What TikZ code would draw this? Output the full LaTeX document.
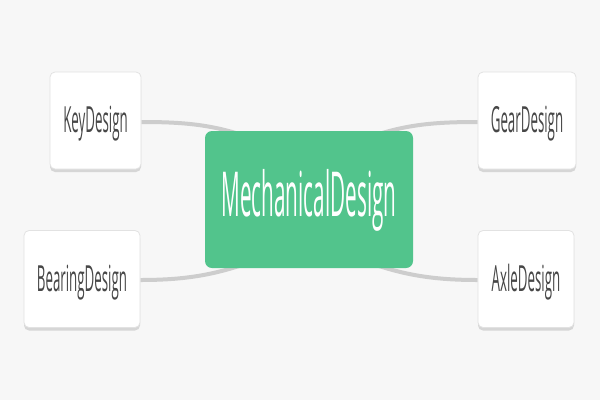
\documentclass[tikz,border=0pt]{standalone}
\usepackage{fontspec}
\usepackage{graphicx}
\setmainfont{Open Sans}
\usetikzlibrary{backgrounds,calc}
\definecolor{bgc}{HTML}{F7F7F7}
\definecolor{rootc}{HTML}{52C48C}
\definecolor{linkc}{HTML}{CDCDCD}
\definecolor{leafborder}{HTML}{E2E2E2}
\definecolor{leafshadow}{HTML}{D6D6D6}
\definecolor{leaftext}{HTML}{474747}
\newcommand{\leaftxt}[1]{\scalebox{0.37}[1]{\fontsize{36}{36}\selectfont #1}}
\newcommand{\roottxt}[1]{\scalebox{0.334}[1]{\fontsize{62}{62}\selectfont #1}}
\begin{document}
\begin{tikzpicture}[x=1pt,y=-1pt,
  rootbox/.style={fill=rootc,rounded corners=7pt,inner sep=0pt,text=white,text height=34pt,text depth=0pt},
  leafbox/.style={fill=white,draw=leafborder,line width=0.8pt,rounded corners=5pt,inner sep=0pt,text=leaftext,text height=24pt,text depth=0pt},
  leafshade/.style={fill=leafshadow,draw=none,rounded corners=5pt,inner sep=0pt},
  link/.style={draw=linkc,line width=4pt}]
\useasboundingbox (0,0) rectangle (600,400);
% shadows
\node[leafshade,minimum width=91pt,minimum height=97pt] (keysh) at (95.5,123.5) {};
\node[leafshade,minimum width=116pt,minimum height=97pt] (bearsh) at (82,282) {};
\node[leafshade,minimum width=98pt,minimum height=97pt] (gearsh) at (527,123.5) {};
\node[leafshade,minimum width=96pt,minimum height=97pt] (axlesh) at (526,282) {};
% nodes
\node[rootbox,minimum width=208pt,minimum height=137pt] (root) at (309,199.5) {\roottxt{MechanicalDesign}};
\node[leafbox,minimum width=91pt,minimum height=97pt] (key) at (95.5,120.5) {\leaftxt{KeyDesign}};
\node[leafbox,minimum width=116pt,minimum height=97pt] (bear) at (82,279) {\leaftxt{BearingDesign}};
\node[leafbox,minimum width=98pt,minimum height=97pt] (gear) at (527,120.5) {\leaftxt{GearDesign}};
\node[leafbox,minimum width=96pt,minimum height=97pt] (axle) at (526,279) {\leaftxt{AxleDesign}};
% connector ends (hidden under root)
\coordinate (e1) at (245,136);
\coordinate (e2) at (245,264);
\coordinate (e3) at (373,136);
\coordinate (e4) at (373,264);
\begin{pgfonlayer}{background}
\fill[bgc] (0,0) rectangle (600,400);
\draw[link] ($(key.east)+(0,1.5)$) .. controls (180,122) and (210,124) .. (e1);
\draw[link] ($(bear.east)+(0,1)$) .. controls (180,280) and (210,276) .. (e2);
\draw[link] ($(gear.west)+(0,1.5)$) .. controls (438,122) and (408,124) .. (e3);
\draw[link] ($(axle.west)+(0,1)$) .. controls (438,280) and (408,276) .. (e4);
\end{pgfonlayer}
\end{tikzpicture}
\end{document}
